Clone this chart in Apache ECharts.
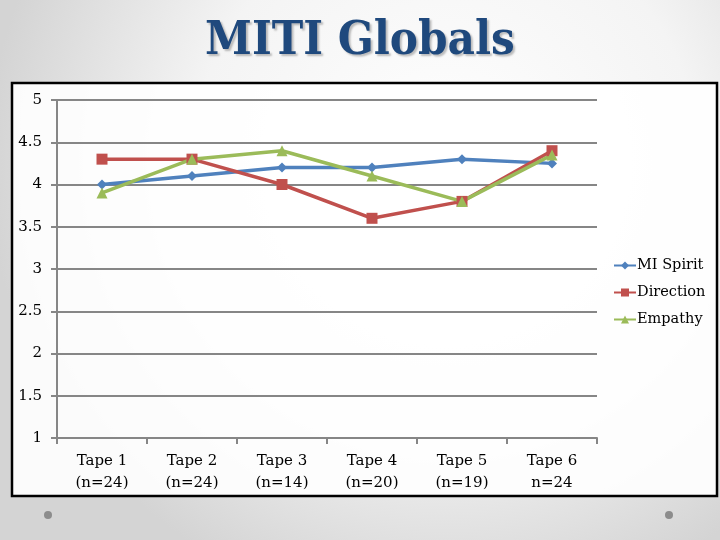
<!DOCTYPE html>
<html>
<head>
<meta charset="utf-8">
<style>html,body{margin:0;padding:0;}#c{width:720px;height:540px;}</style>
<script src="https://cdn.jsdelivr.net/npm/echarts@6/dist/echarts.min.js"></script>
</head>
<body>
<div id="c"></div>
<script>
var categories = ['Tape 1\n(n=24)', 'Tape 2\n(n=24)', 'Tape 3\n(n=14)', 'Tape 4\n(n=20)', 'Tape 5\n(n=19)', 'Tape 6\nn=24'];
var miSpirit = [4.0, 4.1, 4.2, 4.2, 4.3, 4.25];
var direction = [4.3, 4.3, 4.0, 3.6, 3.8, 4.4];
var empathy = [3.9, 4.3, 4.4, 4.1, 3.8, 4.35];
var seriesNames = ['MI Spirit', 'Direction', 'Empathy'];

var font = 'DejaVu Serif';
var chart = echarts.init(document.getElementById('c'));
function mk(name, data, color, symbol, size) {
  return {
    name: name, type: 'line', data: data, symbol: symbol, symbolSize: size,
    lineStyle: {color: color, width: 3.5}, itemStyle: {color: color},
    z: 5
  };
}
chart.setOption({
  backgroundColor: {
    type: 'radial', x: 0.62, y: 0.3, r: 0.85,
    colorStops: [{offset: 0, color: '#ffffff'}, {offset: 0.55, color: '#f4f4f4'}, {offset: 1, color: '#d4d4d4'}]
  },
  animation: false,
  title: {
    text: 'MITI Globals', left: 'center', top: 13,
    textStyle: {
      fontFamily: 'DejaVu Serif Condensed', fontWeight: 'bold', fontSize: 47, color: '#1F497D',
      textShadowColor: 'rgba(0,0,0,0.25)', textShadowBlur: 2, textShadowOffsetX: 2, textShadowOffsetY: 2
    }
  },
  graphic: [
    {type: 'rect', shape: {x: 12, y: 83, width: 705, height: 413}, style: {fill: 'rgba(255,255,255,0.9)', stroke: '#000', lineWidth: 2.5}, z: -10},
    {type: 'circle', shape: {cx: 48, cy: 515, r: 4}, style: {fill: '#8c8c8c'}},
    {type: 'circle', shape: {cx: 669, cy: 515, r: 4}, style: {fill: '#8c8c8c'}}
  ],
  legend: {
    orient: 'vertical', left: 608, top: 253, itemGap: 12, itemWidth: 22, itemHeight: 10,
    data: seriesNames,
    textStyle: {fontFamily: font, fontSize: 14.5, color: '#000', padding: [0, 0, 0, -4]}
  },
  grid: {left: 57, right: 123, top: 100, bottom: 102},
  xAxis: {
    type: 'category', data: categories, boundaryGap: true,
    axisLine: {lineStyle: {color: '#868686', width: 2}},
    axisTick: {show: true, length: 6, lineStyle: {color: '#868686', width: 2}},
    axisLabel: {fontFamily: font, fontSize: 15, color: '#000', margin: 12, lineHeight: 22}
  },
  yAxis: {
    type: 'value', min: 1, max: 5, interval: 0.5,
    axisLine: {show: true, lineStyle: {color: '#868686', width: 2}},
    axisTick: {show: true, length: 6, lineStyle: {color: '#868686', width: 2}},
    splitLine: {lineStyle: {color: '#868686', width: 2}},
    axisLabel: {fontFamily: font, fontSize: 15, color: '#000', margin: 15}
  },
  series: [
    mk(seriesNames[0], miSpirit, '#4F81BD', 'diamond', 10),
    mk(seriesNames[1], direction, '#C0504D', 'rect', 11),
    mk(seriesNames[2], empathy, '#9BBB59', 'triangle', 11)
  ]
});
</script>
</body>
</html>
